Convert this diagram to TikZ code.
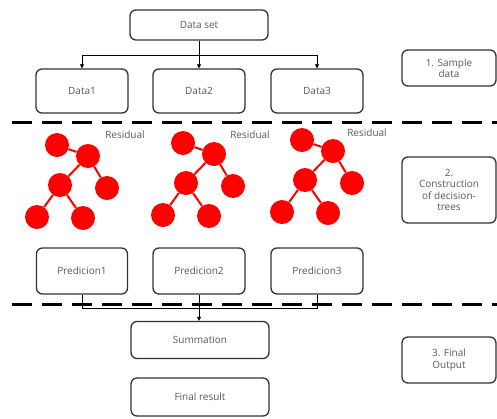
\documentclass[tikz,border=0pt]{standalone}
\usepackage{fontspec}
\setmainfont{Open Sans}
\usetikzlibrary{arrows.meta}
\definecolor{txtgray}{HTML}{595959}
\definecolor{boxline}{HTML}{333333}
\tikzset{
    box/.style={draw=boxline, line width=1.3pt, rounded corners=6pt, text=txtgray,
        font=\fontsize{10}{11.5}\selectfont, align=center, inner sep=0pt},
    leaf/.style={circle, fill=red, minimum size=24pt, inner sep=0pt},
    twig/.style={red, line width=2pt},
    link/.style={line width=0.7pt, black},
    sep/.style={line width=3pt, dash pattern=on 20pt off 10pt},
    resid/.style={text=txtgray, font=\fontsize{10}{11}\selectfont}
}
\begin{document}
\begin{tikzpicture}[x=1pt, y=-1pt]
    \useasboundingbox (0,0) rectangle (497,418);

    % step 1
    \node (dset) [box, minimum width=138pt, minimum height=30pt] at (199,25) {Data set};
    \node (d1) [box, minimum width=92pt, minimum height=44pt] at (82,91) {Data1};
    \node (d2) [box, minimum width=92pt, minimum height=44pt] at (199,91) {Data2};
    \node (d3) [box, minimum width=92pt, minimum height=44pt] at (317,91) {Data3};
    \node (s1) [box, minimum width=94pt, minimum height=36pt] at (449,68) {1. Sample\\data};

    \coordinate (j1) at (199,55);
    \draw[link] (dset.south) -- (j1);
    \draw[link, -{Triangle[length=4pt,width=4pt]}] (j1) -| (d1.north);
    \draw[link, -{Triangle[length=4pt,width=4pt]}] (j1) -- (d2.north);
    \draw[link, -{Triangle[length=4pt,width=4pt]}] (j1) -| (d3.north);

    \coordinate (sepa) at (12,122);
    \coordinate (sepb) at (497,122);
    \draw[sep] (sepa) -- (sepb);

    % step 2: trees
    \foreach \t/\dx/\dy in {1/0/0, 2/126/-2, 3/245/-5} {
        \begin{scope}[shift={(\dx,\dy)}]
            \node (a\t) [leaf] at (57,145) {};
            \node (b\t) [leaf] at (88,156) {};
            \node (c\t) [leaf] at (60,185) {};
            \node (r\t) [leaf] at (107,188) {};
            \node (e\t) [leaf] at (37,217) {};
            \node (f\t) [leaf] at (83,218) {};
            \draw[twig] (a\t) -- (b\t);
            \draw[twig] (b\t) -- (c\t);
            \draw[twig] (b\t) -- (r\t);
            \draw[twig] (c\t) -- (e\t);
            \draw[twig] (c\t) -- (f\t);
        \end{scope}
    }
    \node (res1) [resid] at (125,135) {Residual};
    \node (res2) [resid] at (250,135) {Residual};
    \node (res3) [resid] at (367,133) {Residual};

    \node (s2) [box, minimum width=94pt, minimum height=66pt] at (449,190) {2.\\Construction\\of decision-\\trees};

    % predictions
    \node (p1) [box, minimum width=91pt, minimum height=46pt] at (82,271) {Predicion1};
    \node (p2) [box, minimum width=92pt, minimum height=46pt] at (199,271) {Predicion2};
    \node (p3) [box, minimum width=92pt, minimum height=46pt] at (317,271) {Predicion3};

    \coordinate (sepc) at (12,304);
    \coordinate (sepd) at (497,304);
    \draw[sep] (sepc) -- (sepd);

    % step 3
    \node (sum) [box, minimum width=138pt, minimum height=37pt] at (200,340) {Summation};
    \node (fin) [box, minimum width=138pt, minimum height=38pt] at (200,397) {Final result};
    \node (s3) [box, minimum width=94pt, minimum height=46pt] at (449,360) {3. Final\\Output};

    \coordinate (j2) at (199,308);
    \draw[link] (p1.south) |- (j2);
    \draw[link] (p3.south) |- (j2);
    \draw[link, -{Triangle[length=4pt,width=4pt]}] (p2.south) -- (sum.north -| p2.south);
\end{tikzpicture}
\end{document}
